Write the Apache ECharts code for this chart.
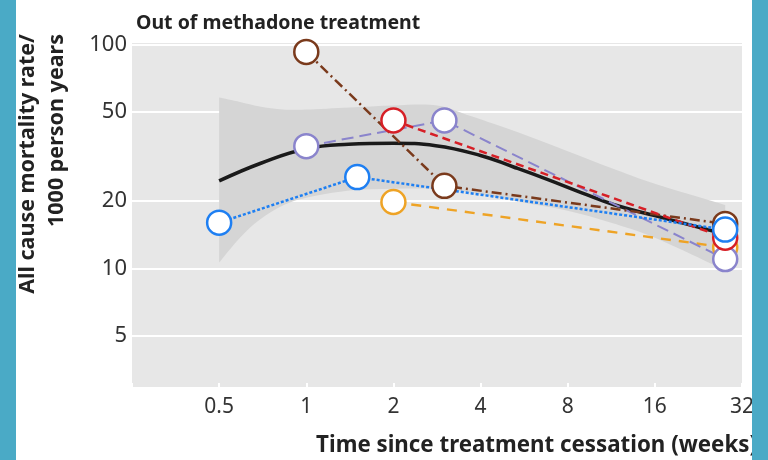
<!DOCTYPE html>
<html><head><meta charset="utf-8">
<script src="https://cdn.jsdelivr.net/npm/echarts@6/dist/echarts.min.js"></script>
<style>html,body{margin:0;padding:0;background:#fff}#c{width:768px;height:460px}</style>
</head><body><div id="c"></div>
<script>
// ---- data ----
const xTicks = [0.5, 1, 2, 4, 8, 16, 32];
const yTicks = [5, 10, 20, 50, 100];

// fitted curve (black) and its confidence band
const fitX = [0.5, 0.7, 1, 1.4, 2, 2.8, 4, 5.2, 6.8, 9, 11.5, 16, 28];
const fitY = [24.6, 29.6, 34.3, 35.9, 36.3, 35.4, 32.0, 28.4, 25.0, 21.7, 19.3, 17.2, 14.2];
const bandX = [0.5, 0.59, 0.69, 0.83, 1, 1.41, 2, 2.83, 3.72, 5.5, 8, 11.3, 16, 28];
const bandLow = [10.6, 13.7, 16.5, 19.1, 20.7, 22.3, 22.7, 22.7, 21.8, 19.8, 18.1, 16.0, 13.7, 9.8];
const bandUp = [58.1, 55.5, 53.0, 51.4, 51.4, 52.5, 53.6, 53.6, 47.9, 40.2, 33.4, 28.1, 23.9, 19.2];

// observed study estimates
const orangeX = [2, 28];      const orangeY = [19.8, 12.4];
const purpleX = [1, 3, 28];   const purpleY = [35.2, 45.9, 11.0];
const brownX = [1, 3, 28];    const brownY = [93, 23.4, 15.8];
const redX = [2, 28];         const redY = [45.9, 13.7];
const blueX = [0.5, 1.5, 28]; const blueY = [16.0, 25.6, 14.9];

const pairs = (xs, ys) => xs.map((x, i) => [x, ys[i]]);

const chart = echarts.init(document.getElementById('c'));
const FONT = '"Noto Sans", "Open Sans", sans-serif';

function obs(name, xs, ys, color, dash, width) {
  return {
    name, type: 'line', data: pairs(xs, ys), z: 5,
    symbol: 'circle', symbolSize: 24, showSymbol: true,
    lineStyle: { color, width, type: dash },
    itemStyle: { color: '#ffffff', borderColor: color, borderWidth: 2.5 },
    emphasis: { disabled: true }, animation: false
  };
}

// Catmull-Rom spline through pixel points -> SVG path commands
function spline(pts, moveFirst) {
  let d = (moveFirst ? 'M' : 'L') + pts[0][0] + ' ' + pts[0][1];
  for (let i = 0; i < pts.length - 1; i++) {
    const p0 = pts[Math.max(i - 1, 0)], p1 = pts[i], p2 = pts[i + 1], p3 = pts[Math.min(i + 2, pts.length - 1)];
    const c1 = [p1[0] + (p2[0] - p0[0]) / 6, p1[1] + (p2[1] - p0[1]) / 6];
    const c2 = [p2[0] - (p3[0] - p1[0]) / 6, p2[1] - (p3[1] - p1[1]) / 6];
    d += 'C' + c1[0] + ' ' + c1[1] + ' ' + c2[0] + ' ' + c2[1] + ' ' + p2[0] + ' ' + p2[1];
  }
  return d;
}

chart.setOption({
  animation: false,
  textStyle: { fontFamily: FONT },
  title: {
    text: 'Out of methadone treatment', left: 131, top: 8,
    textStyle: { fontFamily: FONT, fontSize: 19.5, fontWeight: 'bold', color: '#222' }
  },
  grid: {
    left: 132, right: 26, top: 43, bottom: 73, show: true,
    backgroundColor: '#e7e7e7', borderWidth: 0
  },
  xAxis: {
    type: 'log', logBase: 2, min: 0.25, max: 32,
    axisLine: { show: false },
    axisTick: { show: true, inside: true, length: 4, lineStyle: { color: '#ffffff', width: 2 } },
    axisLabel: {
      customValues: xTicks, fontSize: 21, color: '#333', margin: 10,
      formatter: v => String(v)
    },
    splitLine: { show: false }
  },
  yAxis: {
    type: 'log', logBase: 10, min: 2.94, max: 102,
    axisLine: { show: false },
    axisTick: { show: false, customValues: yTicks },
    axisLabel: { customValues: yTicks, fontSize: 22, color: '#333', margin: 5 },
    splitLine: { show: true, lineStyle: { color: '#ffffff', width: 2 } }
  },
  series: [
    { name: 'band', type: 'custom', z: 2, silent: true, data: [[bandX[0], bandUp[0]]],
      renderItem: (params, api) => {
        const up = bandX.map((x, i) => api.coord([x, bandUp[i]]));
        const low = bandX.map((x, i) => api.coord([x, bandLow[i]])).reverse();
        const d = spline(up, true) + spline(low, false) + 'Z';
        return { type: 'path', shape: { pathData: d }, style: { fill: '#d5d5d5' } };
      } },
    { name: 'fit', type: 'line', smooth: 0.45, symbol: 'none', z: 3,
      data: pairs(fitX, fitY), lineStyle: { color: '#1a1a1a', width: 3.5 } },
    obs('orange', orangeX, orangeY, '#eea325', [10, 8], 2.4),
    obs('purple', purpleX, purpleY, '#8a84cc', [12, 6], 2),
    obs('brown', brownX, brownY, '#7a3a1c', [10, 4, 2, 4], 2.5),
    obs('red', redX, redY, '#d61f26', [8, 5], 2.5),
    obs('blue', blueX, blueY, '#1e7ff2', [3, 2], 2.5)
  ],
  graphic: [
    { type: 'text', x: 13, y: 34, rotation: Math.PI / 2, z: 50,
      style: { text: 'All cause mortality rate/\n1000 person years', align: 'right', verticalAlign: 'top',
        font: 'bold 21.5px ' + FONT, lineHeight: 29, fill: '#222' } },
    { type: 'text', x: 757, y: 446, z: 50,
      style: { text: 'Time since treatment cessation (weeks)', align: 'right', verticalAlign: 'middle',
        font: 'bold 22.3px ' + FONT, fill: '#222' } },
    { type: 'rect', shape: { x: 0, y: 0, width: 16, height: 460 }, z: 100, style: { fill: '#4aaac6' } },
    { type: 'rect', shape: { x: 752, y: 0, width: 16, height: 460 }, z: 100, style: { fill: '#4aaac6' } }
  ]
});
</script></body></html>
